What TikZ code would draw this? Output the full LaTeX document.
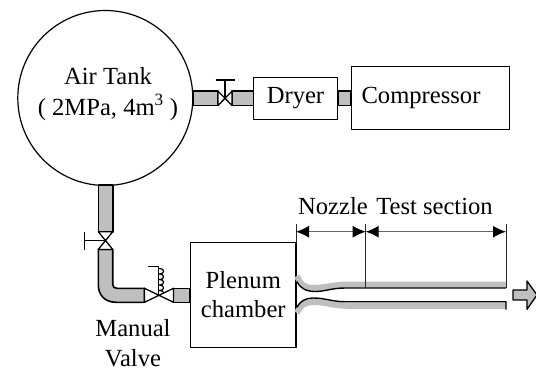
\documentclass[tikz,border=0pt]{standalone}
\usepackage{fontspec}
\setmainfont{Liberation Serif}
\usetikzlibrary{arrows.meta, positioning, calc}
\begin{document}
\begin{tikzpicture}[
  x=1pt, y=-1pt,
  line join=round,
  font=\fontsize{24.6}{29}\selectfont,
  box/.style={draw=black, line width=1.3pt, align=center, inner sep=0pt},
  pipe/.style={draw=black, fill=black!25, line width=1.6pt},
  valve/.style={draw=black, fill=white, line width=1.3pt},
  stem/.style={draw=black, line width=1.2pt},
  wall/.style={draw=black, line width=1.4pt},
  lining/.style={draw=black!25, line width=6pt},
  dim/.style={{Latex[length=13pt,width=12pt,black]}-{Latex[length=13pt,width=12pt,black]}, draw=black!60, line width=1.1pt},
  extline/.style={draw=black!85, line width=0.9pt}
]
\useasboundingbox (0,0) rectangle (536,372);
% vessels
\node[box, circle, minimum size=175pt, line width=1.2pt] (tank) at (105.3,98) {};
\node[align=center, font=\fontsize{24.6}{31}\selectfont, anchor=base] (tanklabel) at (108,115) {Air Tank\\( 2MPa, 4m\textsuperscript{3} )};
\node[box, minimum width=84.5pt, minimum height=42pt] (dryer) at (295.5,98.3) {Dryer};
\node[box, minimum width=157.5pt, minimum height=63pt] (compressor) at (430.5,98.3) {Compressor\hspace{19pt}};
\node[box, minimum width=105.5pt, minimum height=105pt] (plenum) at (243.3,294.8) {Plenum\\chamber};
\node[align=center, inner sep=0pt, font=\fontsize{24.6}{29.5}\selectfont, anchor=base] (manual) at (133,366) {Manual\\Valve};
\node[anchor=base] (nozzlelabel) at (333,214.3) {Nozzle};
\node[anchor=base] (testlabel) at (434.5,214.3) {Test section};
% valves
\coordinate (v1) at (225,98.3);
\coordinate (v2) at (105.5,240.6);
\coordinate (v3) at (158.5,295.3);
% top line
\draw[pipe] (193,91.2) rectangle (218,105.5);
\draw[pipe] (232,91.2) rectangle (253.3,105.5);
\draw[pipe] (dryer.east |- 0,91.2) rectangle (compressor.west |- 0,105.5);
\draw[stem] (v1) -- ++(0,-18.3) ++(-9.5,0) -- ++(19,0);
\draw[valve] (218,91.2) -- (232,105.5) -- (232,91.2) -- (218,105.5) -- cycle;
% tank to plenum
\draw[pipe] (98.3,185) rectangle (112.7,231.7);
\draw[pipe] (98.3,249.4) -- (112.7,249.4) -- (112.7,284) .. controls (112.7,287) and (114,288.3) .. (117,288.3)
  -- (144.5,288.3) -- (144.5,302.3) -- (116,302.3) .. controls (105,302.3) and (98.3,295) .. (98.3,285) -- cycle;
\draw[pipe] (173.5,288.3) rectangle (plenum.west |- 0,302.3);
\draw[stem] (v2) -- ++(-21,0) ++(0,-9) -- ++(0,18);
\draw[valve] (98.3,231.7) -- (112.7,249.4) -- (98.3,249.4) -- (112.7,231.7) -- cycle;
\draw[stem] (v3) -- ++(0,-29) -- ++(-10.5,0);
\draw[stem] (158.5,268.5) .. controls (165.5,268.5) and (165.5,274) .. (158.5,274)
  .. controls (165.5,274) and (165.5,279.5) .. (158.5,279.5)
  .. controls (165.5,279.5) and (165.5,285) .. (158.5,285)
  .. controls (165.5,285) and (165.5,290.5) .. (158.5,290.5)
  .. controls (165.5,290.5) and (165.5,295.3) .. (158.5,295.3);
\draw[valve] (144.5,288.3) -- (173.5,302.3) -- (173.5,288.3) -- (144.5,302.3) -- cycle;
% nozzle and test section
\draw[lining] (297,276) .. controls (301,286) and (306,288) .. (314,288) .. controls (325,288) and (332,284.5) .. (350,284.5) -- (506,284.5);
\draw[lining] (297,313) .. controls (301,304) and (306,302) .. (314,302) .. controls (325,302) and (332,305.8) .. (350,305.8) -- (506,305.8);
\coordinate (inTop) at (plenum.east |- 0,281.5);
\coordinate (inBot) at (plenum.east |- 0,307.5);
\draw[wall] (inTop) .. controls (300,288) and (306,291.5) .. (315,291.5) .. controls (325,291.5) and (332,288) .. (345,288) -- (506,288);
\draw[wall] (inBot) .. controls (300,301) and (306,298) .. (313,298) .. controls (325,298) and (332,301.7) .. (345,301.7) -- (506,301.7) -- (506,309.5);
% dimensions
\coordinate (dimA) at (plenum.east |- 0,224);
\coordinate (dimB) at (365.7,224);
\coordinate (dimC) at (506,224);
\draw[extline] (dimA) -- (plenum.north east);
\draw[extline] (dimB) -- (365.7,288);
\draw[extline] (dimC) -- (506,288);
\draw[dim] (296,231.7) -- (365.7,231.7);
\draw[dim] (365.7,231.7) -- (506,231.7);
% outlet
\draw[pipe, line width=1.3pt] (513,290) -- (527,290) -- (527,281) -- (537,295) -- (527,309.3) -- (527,300) -- (513,300) -- cycle;
\end{tikzpicture}
\end{document}
